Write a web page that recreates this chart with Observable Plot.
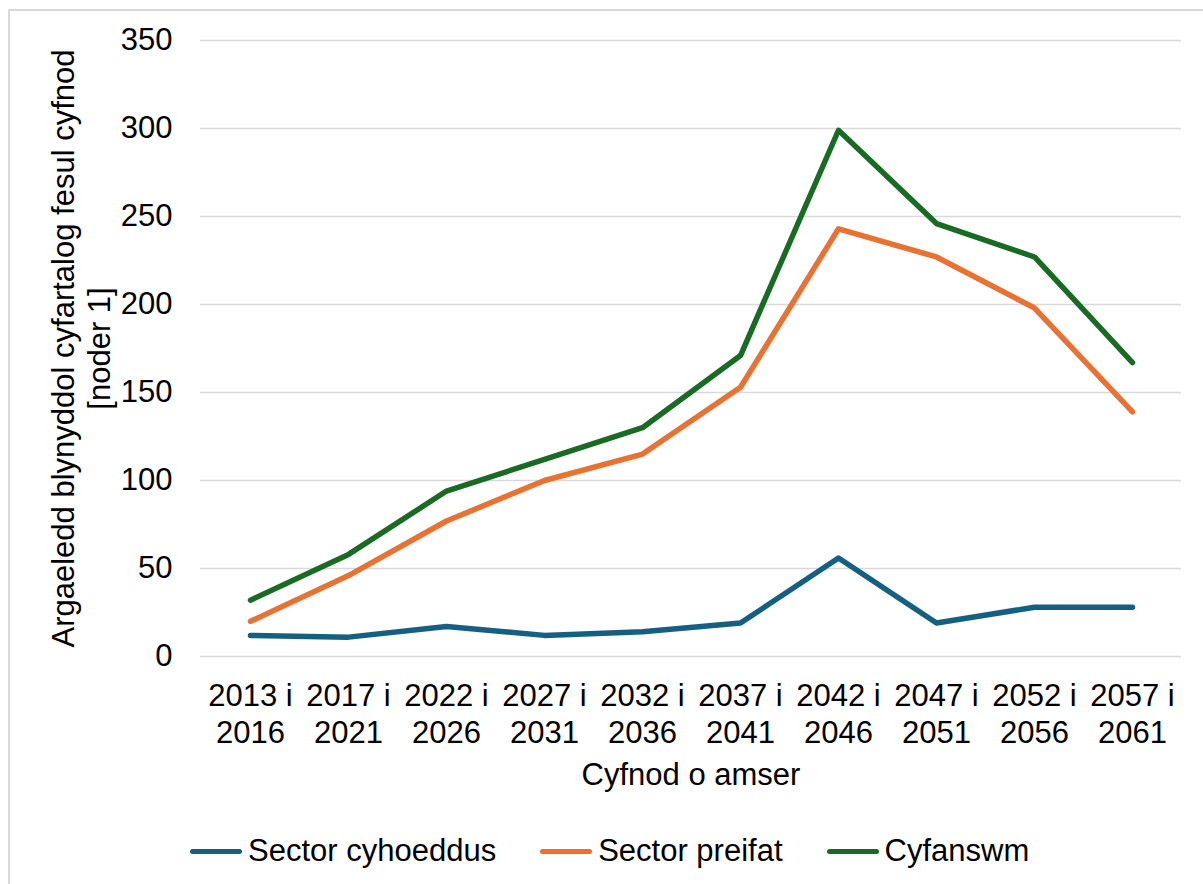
<!DOCTYPE html>
<html><head><meta charset="utf-8">
<script src="https://cdn.jsdelivr.net/npm/d3@7"></script>
<script src="https://cdn.jsdelivr.net/npm/@observablehq/plot@0.6"></script>
<style>
body{margin:0;background:#fff;font-family:"Liberation Sans",Arial,sans-serif;overflow:hidden;width:1203px;height:884px}
#frame{position:absolute;left:8px;top:9px;right:-10px;bottom:-10px;border:2px solid #d9d9d9}
#chart{position:absolute;left:0;top:0}
#legend{position:absolute;top:830px;left:190px;display:flex;align-items:center;font-size:31px;color:#000;height:42px}
.item{display:flex;align-items:center;margin-right:44px}
.sw{width:52px;height:5px;border-radius:3px;margin-right:6px}
</style></head>
<body>
<div id="frame"></div>
<div id="chart"></div>
<div id="legend"></div>
<script>
const periods = ["2013 i 2016","2017 i 2021","2022 i 2026","2027 i 2031","2032 i 2036","2037 i 2041","2042 i 2046","2047 i 2051","2052 i 2056","2057 i 2061"];
const seriesNames = ["Sector cyhoeddus","Sector preifat","Cyfanswm"];
const publicSector = [12,11,17,12,14,19,56,19,28,28];
const privateSector = [20,46,77,100,115,153,243,227,198,139];
const total = [32,58,94,112,130,171,299,246,227,167];
const yTicks = [0,50,100,150,200,250,300,350];
const colors = ["#156082","#E97132","#196B24"];
const xLabel = "Cyfnod o amser";
const yLabel = "Argaeledd blynyddol cyfartalog fesul cyfnod\n[noder 1]";

const values = [publicSector, privateSector, total];
const data = [];
values.forEach((arr, s) => arr.forEach((v, i) => data.push({period: periods[i], value: v, series: seriesNames[s]})));

const chart = Plot.plot({
  width: 1203,
  height: 800,
  marginLeft: 200,
  marginRight: 22,
  marginTop: 40,
  marginBottom: 144,
  style: {fontFamily: '"Liberation Sans", Arial, sans-serif', background: "transparent", overflow: "visible"},
  x: {type: "point", domain: periods, padding: 0.5},
  y: {domain: [0, 350]},
  color: {domain: seriesNames, range: colors},
  marks: [
    Plot.ruleY(yTicks, {stroke: "#d9d9d9", strokeWidth: 1.5}),
    Plot.axisY({ticks: yTicks, tickSize: 0, tickPadding: 28, fontSize: 31, label: null, fill: "#000"}),
    Plot.axisX({tickSize: 0, tickPadding: 23, fontSize: 31, lineHeight: 1.2, label: null, fill: "#000",
      tickFormat: d => d.replace(" i ", " i\n")}),
    Plot.line(data, {x: "period", y: "value", z: "series", stroke: "series", strokeWidth: 5.5, strokeLinejoin: "round", strokeLinecap: "round"}),
    Plot.text([xLabel], {frameAnchor: "bottom", dy: 119, fontSize: 31, fill: "#000", lineAnchor: "middle"}),
    Plot.text([yLabel], {frameAnchor: "left", dx: -120, rotate: -90, fontSize: 31, lineHeight: 1.17, fill: "#000", lineAnchor: "middle", textAnchor: "middle"})
  ]
});
document.getElementById("chart").appendChild(chart);

const legend = document.getElementById("legend");
seriesNames.forEach((name, i) => {
  const item = document.createElement("div");
  item.className = "item";
  const sw = document.createElement("span");
  sw.className = "sw";
  sw.style.background = colors[i];
  const label = document.createElement("span");
  label.textContent = name;
  item.appendChild(sw);
  item.appendChild(label);
  legend.appendChild(item);
});
</script>
</body></html>
